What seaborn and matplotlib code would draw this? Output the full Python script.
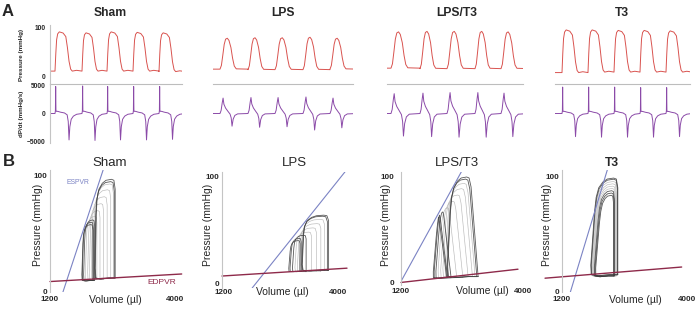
import numpy as np
import pandas as pd
import matplotlib
matplotlib.use("Agg")
import matplotlib.pyplot as plt
import seaborn as sns

PANELS = ["Sham", "LPS", "LPS/T3", "T3"]

# ---------------- A: LV pressure and dP/dt traces ----------------
# beat onsets (s), pressure peak/trough (mmHg), dP/dt max/min (mmHg/s) per beat
ONSETS = {"Sham": [0.035, 0.224, 0.399, 0.581, 0.763],
          "LPS": [0.049, 0.245, 0.434, 0.630, 0.819],
          "LPS/T3": [0.028, 0.231, 0.420, 0.616, 0.798],
          "T3": [0.049, 0.231, 0.413, 0.595, 0.777]}
P_PEAK = {"Sham": [92, 90, 92, 91, 90],
          "LPS": [79, 80, 80, 81, 79],
          "LPS/T3": [92, 93, 93, 93, 92],
          "T3": [96, 96, 95, 95, 94]}
P_TROUGH = {"Sham": [12, 12, 12, 12, 11],
            "LPS": [16, 15, 15, 15, 16],
            "LPS/T3": [18, 17, 17, 17, 17],
            "T3": [9, 10, 10, 10, 10]}
DPDT_MAX = {"Sham": [4900, 5000, 4900, 4900, 4900],
            "LPS": [2800, 2900, 2900, 3000, 2800],
            "LPS/T3": [3600, 3700, 3800, 3800, 3700],
            "T3": [4800, 4800, 4800, 4700, 4700]}
DPDT_MIN = {"Sham": [-4800, -4900, -4800, -4800, -4700],
            "LPS": [-2300, -2500, -2400, -3000, -2600],
            "LPS/T3": [-4100, -4200, -4300, -4300, -4200],
            "T3": [-4200, -4300, -4300, -4300, -4200]}
T_END = {"Sham": 0.924, "LPS": 0.98, "LPS/T3": 0.952, "T3": 0.945}

# one-beat shapes (fraction of cycle, fraction of amplitude)
SQUARE_PHASE = [0, 0.03, 0.06, 0.1, 0.16, 0.3, 0.4, 0.46, 0.52, 0.58, 0.64, 0.8, 1.0]
SQUARE_LEVEL = [0, 0.45, 0.8, 0.95, 1.0, 0.97, 0.88, 0.6, 0.25, 0.05, 0.0, 0.02, 0.0]
BELL_PHASE = [0, 0.05, 0.1, 0.15, 0.2, 0.26, 0.32, 0.39, 0.45, 0.51, 0.58, 1.0]
BELL_LEVEL = [0, 0.12, 0.45, 0.8, 0.97, 1.0, 0.93, 0.7, 0.35, 0.1, 0.01, 0]
SPIKE_PHASE = [0, 0.015, 0.025, 0.035, 0.05, 0.1, 0.2, 0.35, 0.45, 0.49, 0.52, 0.55, 0.6, 0.68, 0.8, 1.0]
SPIKE_LEVEL = [0, 0.1, 1.0, 0.12, 0.08, 0.08, 0.05, 0.02, -0.05, -0.3, -1.0, -0.5, -0.22, -0.1, -0.03, 0]
BLUNT_PHASE = [0, 0.04, 0.08, 0.11, 0.14, 0.2, 0.28, 0.36, 0.4, 0.43, 0.47, 0.53, 0.63, 1.0]
BLUNT_LEVEL = [0, 0.2, 0.7, 1.0, 0.6, 0.35, 0.15, -0.05, -0.35, -1.0, -0.45, -0.15, -0.03, 0]
P_SHAPE = {"Sham": "square", "LPS": "bell", "LPS/T3": "bell", "T3": "square"}
D_SHAPE = {"Sham": "spike", "LPS": "blunt", "LPS/T3": "blunt", "T3": "spike"}

# ---------------- B: pressure-volume loops ----------------
# end-systolic volume, end-diastolic volume (ul), end-systolic / end-diastolic pressure (mmHg)
ESV = {"Sham": [2210, 2200, 2190, 2160, 2120, 2080, 2040, 1990, 1950, 1920, 1910],
       "LPS": [3110, 3100, 3080, 3040, 2990, 2930, 2870, 2810, 2780],
       "LPS/T3": [2260, 2250, 2230, 2200, 2150, 2100, 2040, 1990, 1950, 1930],
       "T3": [1830, 1840, 1850, 1865, 1880, 1895, 1910, 1925, 1940]}
EDV = {"Sham": [2660, 2640, 2620, 2560, 2480, 2400, 2320, 2250, 2200, 2170, 2160],
       "LPS": [3760, 3730, 3660, 3570, 3460, 3340, 3210, 3090, 3060],
       "LPS/T3": [2970, 2940, 2900, 2840, 2740, 2620, 2480, 2350, 2270, 2250],
       "T3": [2450, 2445, 2435, 2420, 2405, 2390, 2375, 2365, 2355]}
PES = {"Sham": [97, 95, 93, 88, 82, 76, 70, 65, 62, 60, 58],
       "LPS": [64, 63, 60, 56, 52, 48, 45, 42, 40],
       "LPS/T3": [100, 98, 94, 89, 83, 77, 71, 67, 64, 62],
       "T3": [99, 98, 96, 94, 92, 90, 88, 86, 84]}
PED = {"Sham": [12, 12, 12, 12, 12, 11, 11, 11, 10, 10, 10],
       "LPS": [12, 12, 12, 11, 11, 11, 11, 11, 11],
       "LPS/T3": [6, 6, 6, 6, 6, 5, 5, 5, 5, 5],
       "T3": [15, 15, 15, 14, 14, 14, 14, 14, 14]}
# how far the loop walls lean at the top (ul)
LEFT_TILT = {"Sham": 40, "LPS": 60, "LPS/T3": 115, "T3": 150}
RIGHT_TILT = {"Sham": 0, "LPS": 0, "LPS/T3": -180, "T3": 0}
ESPVR_V = {"Sham": [1490, 2390], "LPS": [1890, 4185], "LPS/T3": [1180, 2600], "T3": [1380, 2230]}
ESPVR_P = {"Sham": [0, 105], "LPS": [-4.7, 106], "LPS/T3": [0, 106], "T3": [-1, 108]}
EDPVR_V = {"Sham": [1200, 4150], "LPS": [1152, 4210], "LPS/T3": [1200, 3885], "T3": [820, 3880]}
EDPVR_P = {"Sham": [9, 15.5], "LPS": [6.6, 14], "LPS/T3": [0.5, 13], "T3": [12, 21.7]}

# loop outline in unit coordinates (u across volume, h up pressure)
LOOP_U = [1.0, 1.0, 1.0, 0.93, 0.8, 0.5, 0.3, 0.12, 0.03, 0.0, 0.0, 0.04, 0.3, 0.7, 1.0]
LOOP_H = [0.0, 0.5, 0.9, 0.99, 1.0, 0.99, 0.96, 0.9, 0.8, 0.65, 0.1, 0.0, -0.01, 0.0, 0.0]

RED = "#d9534f"
PURPLE = "#8b4aa8"
SPINE = "#c4c4c4"
ESPVR_C = "#7b83c4"
EDPVR_C = "#8e2a4a"

W, H = 697, 311

sns.set_style("white")
plt.rcParams["font.family"] = ["Liberation Sans", "DejaVu Sans"]


def box(x0, y0, x1, y1):
    return [x0 / W, 1 - y1 / H, (x1 - x0) / W, (y1 - y0) / H]


def trace(name, phase, level, hi, lo):
    on = np.array(ONSETS[name])
    gaps = np.diff(on)
    periods = np.append(gaps, gaps.mean())
    phase = np.array(phase)
    level = np.array(level)
    t, y = [0.0], [0.0]
    for o, per, a, b in zip(on, periods, hi[name], lo[name]):
        t.extend(o + phase * per)
        y.extend(np.where(level >= 0, level * a, -level * b))
    return pd.DataFrame({"t": t, "y": y})


def pressure_trace(name):
    if P_SHAPE[name] == "square":
        ph, lv = SQUARE_PHASE, SQUARE_LEVEL
    else:
        ph, lv = BELL_PHASE, BELL_LEVEL
    on = np.array(ONSETS[name])
    gaps = np.diff(on)
    periods = np.append(gaps, gaps.mean())
    t, y = [0.0], [P_TROUGH[name][0]]
    for o, per, pk, tr in zip(on, periods, P_PEAK[name], P_TROUGH[name]):
        t.extend(o + np.array(ph) * per)
        y.extend(tr + np.array(lv) * (pk - tr))
    return pd.DataFrame({"t": t, "y": y})


def dpdt_trace(name):
    if D_SHAPE[name] == "spike":
        return trace(name, SPIKE_PHASE, SPIKE_LEVEL, DPDT_MAX, DPDT_MIN)
    return trace(name, BLUNT_PHASE, BLUNT_LEVEL, DPDT_MAX, DPDT_MIN)


def loops(name):
    rows = []
    u = np.array(LOOP_U)
    h = np.array(LOOP_H)
    n = len(ESV[name])
    for i, (l, r, top, bot) in enumerate(zip(ESV[name], EDV[name], PES[name], PED[name])):
        v = l + u * (r - l) + h * (LEFT_TILT[name] * (1 - u) + RIGHT_TILT[name] * u)
        p = bot + h * (top - bot)
        shade = "dark" if (i < 2 or i >= n - 3) else "light"
        for vv, pp in zip(v, p):
            rows.append({"V": vv, "P": pp, "loop": i, "shade": shade})
    return pd.DataFrame(rows)


fig = plt.figure(figsize=(W / 100, H / 100), dpi=100)

# ---------------- panel A ----------------
TRACE_BOX = {"Sham": (50, 182), "LPS": (213, 353), "LPS/T3": (387, 523), "T3": (555, 690)}
TITLE_A_X = {"Sham": 110, "LPS": 283, "LPS/T3": 457, "T3": 622}

for name in PANELS:
    x0, x1 = TRACE_BOX[name]
    axp = fig.add_axes(box(x0, 25, x1, 84))
    axd = fig.add_axes(box(x0, 84, x1, 143))
    sns.lineplot(data=pressure_trace(name), x="t", y="y", sort=False, estimator=None,
                 color=RED, lw=0.7, ax=axp)
    sns.lineplot(data=dpdt_trace(name), x="t", y="y", sort=False, estimator=None,
                 color=PURPLE, lw=0.7, ax=axd)
    axp.set_ylim(-14.3, 106)
    axd.set_ylim(-5360, 5360)
    for ax in (axp, axd):
        ax.set_xlim(0, T_END[name])
        ax.set_xticks([])
        ax.set_xlabel("")
        ax.set_ylabel("")
        ax.patch.set_alpha(0)
        for s in ax.spines.values():
            s.set_visible(False)
        ax.tick_params(axis="y", length=0, pad=3, labelsize=4.8)
    axp.spines["bottom"].set_visible(True)
    axp.spines["bottom"].set_color("#bdbdbd")
    axp.spines["bottom"].set_linewidth(0.8)
    if name == "Sham":
        axp.set_yticks([0, 100])
        axd.set_yticks([-5000, 0, 5000])
        for ax in (axp, axd):
            ax.spines["left"].set_visible(True)
            ax.spines["left"].set_color(SPINE)
            ax.spines["left"].set_linewidth(0.8)
            for lbl in ax.get_yticklabels():
                lbl.set_fontweight("bold")
        axp.set_ylabel("Pressure (mmHg)", fontsize=4.5, fontweight="bold")
        axd.set_ylabel("dP/dt (mmHg/s)", fontsize=4.5, fontweight="bold")
        for ax in (axp, axd):
            ax.yaxis.label.set_va("center")
            ax.yaxis.set_label_coords((22 - x0) / (x1 - x0), 0.5)
    else:
        axp.set_yticks([])
        axd.set_yticks([])
    fig.text(TITLE_A_X[name] / W, 1 - 13 / H, name, ha="center", va="center",
             fontsize=8.7, fontweight="bold")

# ---------------- panel B ----------------
LOOP_BOX = {"Sham": (50, 170, 182, 292), "LPS": (222, 172, 347, 288),
            "LPS/T3": (401, 172, 525, 285), "T3": (562, 170, 690, 292)}
XLIM = {"Sham": (1200, 4157), "LPS": (1152, 4210), "LPS/T3": (1200, 4046), "T3": (1200, 4067)}
YLIM = {"Sham": (0, 105), "LPS": (-4.7, 104.7), "LPS/T3": (-1.9, 104.7), "T3": (0, 106)}
XTICK_PAD = {"Sham": 3.2, "LPS": 0.6, "LPS/T3": 2.0, "T3": 3.2}
YTICK_PAD = {"Sham": 2, "LPS": 2, "LPS/T3": 5, "T3": 2}
XLABEL_XY = {"Sham": (115, 300), "LPS": (282, 292), "LPS/T3": (482, 291), "T3": (635, 300)}
YLABEL_X = {"Sham": 38, "LPS": 208, "LPS/T3": 386, "T3": 547}
TITLE_B_X = {"Sham": 110, "LPS": 294, "LPS/T3": 457, "T3": 612}

for name in PANELS:
    x0, y0, x1, y1 = LOOP_BOX[name]
    ax = fig.add_axes(box(x0, y0, x1, y1))
    ax.patch.set_alpha(0)
    df = loops(name)
    sns.lineplot(data=df[df.shade == "light"], x="V", y="P", units="loop", estimator=None,
                 sort=False, color="#a8a8a8", lw=0.45, alpha=0.8, ax=ax)
    sns.lineplot(data=df[df.shade == "dark"], x="V", y="P", units="loop", estimator=None,
                 sort=False, color="#3c3c3c", lw=0.6, alpha=0.85, ax=ax)
    sns.lineplot(x=ESPVR_V[name], y=ESPVR_P[name], color=ESPVR_C, lw=0.8, ax=ax)
    sns.lineplot(x=EDPVR_V[name], y=EDPVR_P[name], color=EDPVR_C, lw=1.0, ax=ax, clip_on=False)
    ax.set_xlim(*XLIM[name])
    ax.set_ylim(*YLIM[name])
    ax.set_xticks([1200, 4000])
    ax.set_yticks([0, 100])
    ax.tick_params(axis="both", length=0, labelsize=5.8)
    ax.tick_params(axis="x", pad=XTICK_PAD[name])
    ax.tick_params(axis="y", pad=YTICK_PAD[name])
    for lbl in ax.get_xticklabels() + ax.get_yticklabels():
        lbl.set_fontweight("bold")
    for s in ax.spines.values():
        s.set_visible(False)
    ax.spines["left"].set_visible(True)
    ax.spines["left"].set_color(SPINE)
    ax.spines["left"].set_linewidth(0.8)
    ax.set_xlabel("Volume (\u00b5l)", fontsize=7.5)
    ax.xaxis.label.set_va("center")
    lx, ly = XLABEL_XY[name]
    ax.xaxis.set_label_coords((lx - x0) / (x1 - x0), (y1 - ly) / (y1 - y0))
    ax.set_ylabel("Pressure (mmHg)", fontsize=7.5)
    ax.yaxis.label.set_va("center")
    ax.yaxis.set_label_coords((YLABEL_X[name] - x0) / (x1 - x0), (y1 - 225) / (y1 - y0))
    bold = "bold" if name == "T3" else "normal"
    fig.text(TITLE_B_X[name] / W, 1 - 163 / H, name, ha="center", va="center",
             fontsize=8.7 if name == "T3" else 9.5, fontweight=bold)

fig.text(78 / W, 1 - 183 / H, "ESPVR", color=ESPVR_C, fontsize=4.9, ha="center", va="center")
fig.text(162 / W, 1 - 283 / H, "EDPVR", color=EDPVR_C, fontsize=6.0, ha="center", va="center")
fig.text(8 / W, 1 - 11 / H, "A", fontsize=12, fontweight="bold", ha="center", va="center")
fig.text(9 / W, 1 - 161 / H, "B", fontsize=12, fontweight="bold", ha="center", va="center")

fig.savefig("out.png", dpi=100)
